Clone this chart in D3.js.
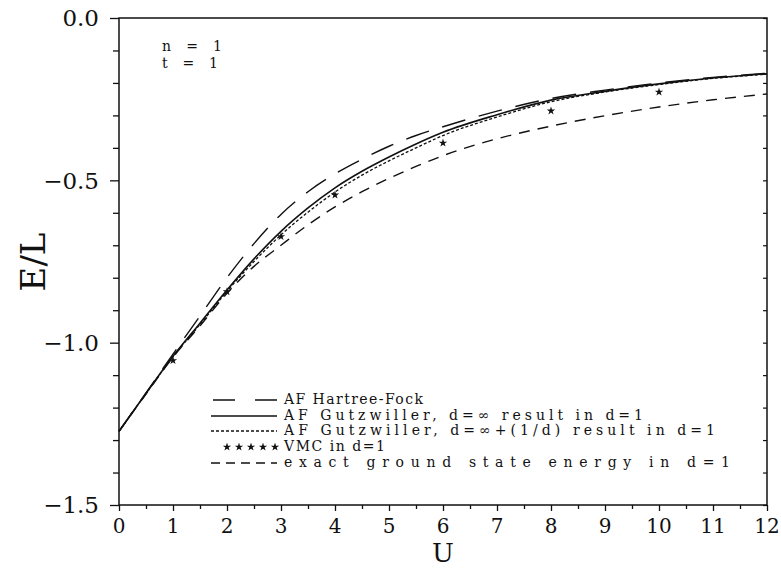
<!DOCTYPE html>
<html><head><meta charset="utf-8">
<script src="https://cdn.jsdelivr.net/npm/d3@7"></script>
<style>
html,body{margin:0;padding:0;background:#fff;}
svg{display:block;}
text{font-family:"DejaVu Serif","Liberation Serif",serif;fill:#111;}
</style></head><body>
<svg id="c" width="781" height="568"></svg>
<script>
// ---- data ----
const U = [0,0.5,1,1.5,2,2.5,3,3.5,4,4.5,5,5.5,6,7,8,9,10,11,12];
const hartreeFock = [-1.273,-1.155,-1.035,-0.918,-0.800,-0.695,-0.605,-0.535,-0.480,-0.435,-0.395,-0.362,-0.335,-0.287,-0.248,-0.222,-0.200,-0.183,-0.170];
const gutzInf     = [-1.273,-1.156,-1.042,-0.940,-0.838,-0.742,-0.657,-0.585,-0.523,-0.472,-0.428,-0.388,-0.352,-0.298,-0.253,-0.226,-0.203,-0.185,-0.172];
const gutzInfD    = [-1.273,-1.157,-1.043,-0.944,-0.842,-0.750,-0.668,-0.598,-0.536,-0.484,-0.440,-0.400,-0.362,-0.305,-0.258,-0.228,-0.205,-0.186,-0.173];
const exact       = [-1.273,-1.158,-1.045,-0.948,-0.848,-0.765,-0.700,-0.637,-0.582,-0.535,-0.494,-0.457,-0.424,-0.372,-0.333,-0.301,-0.274,-0.252,-0.234];
const vmcU = [1,2,3,4,6,8,10];
const vmcE = [-1.055,-0.843,-0.673,-0.545,-0.385,-0.286,-0.228];
const xTicks = [0,1,2,3,4,5,6,7,8,9,10,11,12];
const yTicks = [0,-0.5,-1.0,-1.5];
const yTickLabels = ["0.0","\u22120.5","\u22121.0","\u22121.5"];
const legendLabels = ["AF Hartree-Fock","AF Gutzwiller, d=\u221e result in d=1","AF Gutzwiller, d=\u221e+(1/d) result in d=1","VMC in d=1","exact ground state energy in d=1"];

// ---- layout ----
const svg = d3.select("#c");
const L = 119, R = 767, T = 18, B = 505;
const x = d3.scaleLinear().domain([0,12]).range([L,R]);
const y = d3.scaleLinear().domain([-1.5,0]).range([B,T]);

// frame
svg.append("rect").attr("x",L).attr("y",T).attr("width",R-L).attr("height",B-T)
  .attr("fill","none").attr("stroke","#111").attr("stroke-width",1.5);

// y axis (left)
const yAx = d3.axisLeft(y).tickValues(d3.range(0,16).map(i=>-i*0.1)).tickSize(6).tickFormat("");
const gy = svg.append("g").attr("transform",`translate(${L},0)`).call(yAx);
gy.select(".domain").remove();
gy.selectAll("line").attr("stroke","#111").attr("stroke-width",1.3);
gy.selectAll(".tick").filter(d=>Math.abs(d*2-Math.round(d*2))<1e-6).select("line").attr("x2",-9);
svg.selectAll(".ylab").data(yTicks).enter().append("text")
  .attr("x",99).attr("y",d=>y(d)).attr("dy","0.36em").attr("text-anchor","end")
  .style("font-size","23px").text((d,i)=>yTickLabels[i]);

// right ticks
const yAxR = d3.axisLeft(y).tickValues(d3.range(0,16).map(i=>-i*0.1)).tickSize(4).tickFormat("");
const gyr = svg.append("g").attr("transform",`translate(${R},0)`).call(yAxR);
gyr.select(".domain").remove();
gyr.selectAll("line").attr("stroke","#111").attr("stroke-width",1.2);

// x axis
const xAx = d3.axisBottom(x).tickValues(d3.range(0,25).map(i=>i*0.5)).tickSize(6).tickFormat("");
const gx = svg.append("g").attr("transform",`translate(0,${B})`).call(xAx);
gx.select(".domain").remove();
gx.selectAll("line").attr("stroke","#111").attr("stroke-width",1.3);
gx.selectAll(".tick").filter(d=>Math.abs(d-Math.round(d))>1e-6).select("line").attr("y2",4);
svg.selectAll(".xlab").data(xTicks).enter().append("text")
  .attr("x",d=>x(d)).attr("y",B+28).attr("text-anchor","middle")
  .style("font-size","20px").text(d=>d);

// axis titles
svg.append("text").attr("x",x(6)).attr("y",562).attr("text-anchor","middle")
  .style("font-size","26px").text("U");
svg.append("text").attr("transform",`translate(45,262) rotate(-90)`).attr("text-anchor","middle")
  .style("font-size","34px").text("E/L");

// n, t annotation
svg.append("text").attr("x",162).attr("y",51).style("font-size","14px").attr("textLength",60).attr("lengthAdjust","spacing").text("n = 1");
svg.append("text").attr("x",162).attr("y",68).style("font-size","14px").attr("textLength",56).attr("lengthAdjust","spacing").text("t = 1");

// curves
const line = d3.line().x(d=>x(d[0])).y(d=>y(d[1])).curve(d3.curveMonotoneX);
const styles = [
  {data:hartreeFock, dash:"24,14", w:1.4},
  {data:gutzInf, dash:null, w:1.6},
  {data:gutzInfD, dash:"3,2", w:1.3},
  {data:exact, dash:"11,8", w:1.4}
];
styles.forEach(s=>{
  svg.append("path").datum(U.map((u,i)=>[u,s.data[i]]))
    .attr("d",line).attr("fill","none").attr("stroke","#111")
    .attr("stroke-width",s.w).attr("stroke-dasharray",s.dash);
});

// VMC stars
const star = d3.symbol().type(d3.symbolStar).size(22);
svg.selectAll(".vmc").data(vmcU.map((u,i)=>[u,vmcE[i]])).enter().append("path")
  .attr("d",star).attr("transform",d=>`translate(${x(d[0])},${y(d[1])})`).attr("fill","#111");

// legend
const lgY = [400,416,431,447,463];
const lgW = [139,359,431,101,446];
const lx0 = 213, lx1 = 277;
const lg = svg.append("g");
[0,1,2,4].forEach((k)=>{
  const s = k===4?styles[3]:styles[k];
  lg.append("line").attr("x1",k===0?lx0:lx0-2).attr("x2",lx1).attr("y1",lgY[k]).attr("y2",lgY[k])
    .attr("stroke","#111").attr("stroke-width",s.w)
    .attr("stroke-dasharray",k===0?"22,20":(k===4?"9,6":s.dash));
});
d3.range(5).forEach(i=>{
  lg.append("path").attr("d",star).attr("transform",`translate(${227+i*12},${lgY[3]})`).attr("fill","#111");
});
lg.selectAll("text").data(legendLabels).enter().append("text")
  .attr("x",284).attr("y",(d,i)=>lgY[i]).attr("dy","0.32em")
  .style("font-size","14px").attr("textLength",(d,i)=>lgW[i]).attr("lengthAdjust","spacing").text(d=>d);
</script>
</body></html>
